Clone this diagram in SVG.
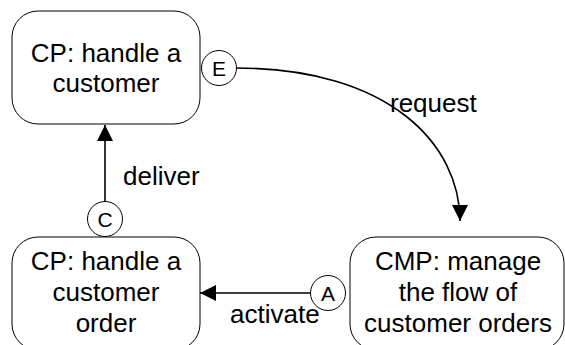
<svg xmlns="http://www.w3.org/2000/svg" width="565" height="345" viewBox="0 0 565 345">
<style>
.box{fill:#fff;stroke:#000;stroke-width:1}
.port{fill:#fff;stroke:#000;stroke-width:1}
.lbl{font-family:"Liberation Sans",Arial,sans-serif;font-size:26px;fill:#000}
.c{text-anchor:middle}
.pl{font-family:"Liberation Sans",Arial,sans-serif;font-size:21px;fill:#000;text-anchor:middle}
.edge{fill:none;stroke:#000;stroke-width:1.6}
</style>
<defs>
<marker id="ah" viewBox="0 0 16 16" refX="16" refY="8" markerWidth="16" markerHeight="16" markerUnits="userSpaceOnUse" orient="auto">
<path d="M0,0 L16,8 L0,16 Z" fill="#000"/>
</marker>
</defs>
<rect width="565" height="345" fill="#fff"/>
<g id="connectors">
<path class="edge" d="M236,68 C390,68 460,145 460,221" marker-end="url(#ah)"/>
<text class="lbl" x="390" y="112">request</text>
<line class="edge" x1="105" y1="202" x2="105" y2="125" marker-end="url(#ah)"/>
<text class="lbl" x="123" y="185">deliver</text>
<line class="edge" x1="311" y1="293" x2="200" y2="293" marker-end="url(#ah)"/>
<text class="lbl" x="230" y="323">activate</text>
</g>
<g id="node-customer">
<rect class="box" x="12" y="11" width="188" height="113" rx="26" ry="26"/>
<text class="lbl c" x="106" y="62">CP: handle a</text>
<text class="lbl c" x="106" y="92">customer</text>
</g>
<g id="node-order">
<rect class="box" x="12" y="237" width="188" height="113" rx="26" ry="26"/>
<text class="lbl c" x="106" y="270">CP: handle a</text>
<text class="lbl c" x="106" y="301">customer</text>
<text class="lbl c" x="106" y="332">order</text>
</g>
<g id="node-cmp">
<rect class="box" x="350" y="237" width="214" height="113" rx="26" ry="26"/>
<text class="lbl c" x="458" y="270">CMP: manage</text>
<text class="lbl c" x="458" y="301">the flow of</text>
<text class="lbl c" x="458" y="332">customer orders</text>
</g>
<g id="port-E">
<circle class="port" cx="219" cy="68" r="17.5"/>
<text class="pl" x="219" y="75.5">E</text>
</g>
<g id="port-C">
<circle class="port" cx="105" cy="219" r="17.5"/>
<text class="pl" x="105" y="226.5">C</text>
</g>
<g id="port-A">
<circle class="port" cx="328" cy="293" r="17.5"/>
<text class="pl" x="328" y="300.5">A</text>
</g>
</svg>
